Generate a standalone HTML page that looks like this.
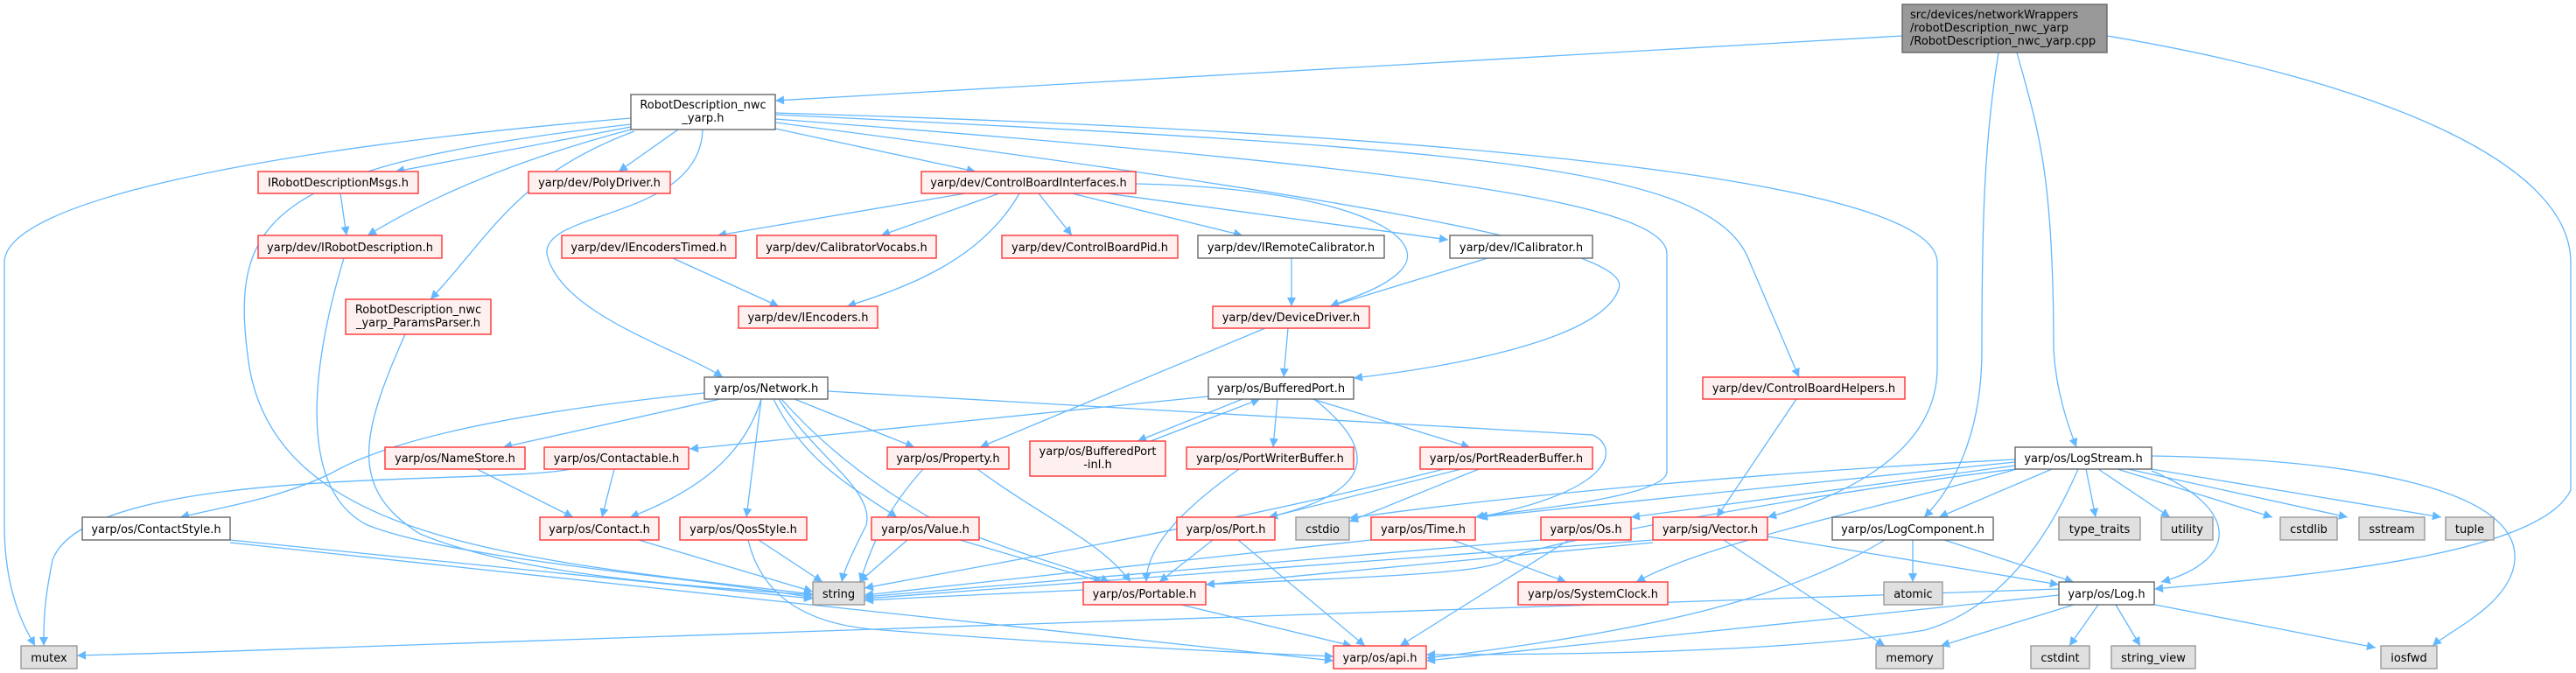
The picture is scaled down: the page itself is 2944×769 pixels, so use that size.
<!DOCTYPE html>
<html><head><meta charset="utf-8"><style>
html,body{margin:0;padding:0;background:#fff}
svg{display:block}
text{font-family:"DejaVu Sans","Liberation Sans",sans-serif;font-size:13px;fill:#000}
.r{fill:#fff0f0;stroke:#ff3333;stroke-width:1.4}
.w{fill:#fff;stroke:#666;stroke-width:1.4}
.g{fill:#e0e0e0;stroke:#999;stroke-width:1.4}
.d{fill:#999;stroke:#666;stroke-width:1.4}
.e path{fill:none;stroke:#63b8ff;stroke-width:1.3;marker-end:url(#a)}
</style></head><body>
<svg width="2944" height="769" viewBox="0 0 2944 769" xmlns="http://www.w3.org/2000/svg">
<defs><marker id="a" viewBox="0 0 10 10" refX="10" refY="5" markerWidth="11" markerHeight="10" markerUnits="userSpaceOnUse" orient="auto"><path d="M0,0 L10,5 L0,10 z" fill="#63b8ff"/></marker></defs>
<g class="e">
<!-- cpp -->
<path d="M2174,41 L886,115"/>
<path d="M2284,60 C2268,160 2265,250 2265,400 C2265,500 2230,560 2199,591"/>
<path d="M2305,60 C2330,150 2347,200 2347,400 C2350,450 2365,490 2373,511"/>
<path d="M2408,41 C2700,90 2938,180 2938,300 L2938,560 C2900,640 2600,660 2462,673"/>
<!-- RD -->
<path d="M721,135 C300,170 5,230 5,300 L5,600 C5,680 30,720 40,738"/>
<path d="M721,142 C300,190 260,250 285,420 C320,620 600,640 929,679"/>
<path d="M721,145 L452,196"/>
<path d="M721,148 C600,180 500,220 420,269"/>
<path d="M725,150 C590,200 560,270 492,342"/>
<path d="M775,148 L707,196"/>
<path d="M803,148 C800,250 620,240 625,290 C640,360 780,400 826,431"/>
<path d="M886,147 L1115,196"/>
<path d="M886,140 C1500,220 1870,280 1850,330 C1830,390 1650,420 1547,432"/>
<path d="M886,136 C1600,190 1905,230 1905,290 L1905,540 C1900,570 1720,585 1686,591"/>
<path d="M886,131 C1700,170 1960,190 2000,300 L2056,431"/>
<path d="M886,129 C1600,150 2214,200 2214,300 L2214,420 C2214,520 2100,570 2020,591"/>
<!-- CBI -->
<path d="M1103,221 L820,269"/>
<path d="M1142,221 L1007,269"/>
<path d="M1165,221 C1120,300 1030,330 968,350"/>
<path d="M1187,221 L1225,269"/>
<path d="M1225,221 L1420,269"/>
<path d="M1265,221 L1655,274"/>
<path d="M1298,210 C1540,215 1640,270 1600,310 C1580,330 1545,340 1520,350"/>
<path d="M389,221 L396,269"/>
<path d="M393,295 C355,420 340,560 420,600 C520,640 800,660 929,683"/>
<path d="M463,382 C410,500 400,560 480,610 C600,660 800,670 929,680"/>
<path d="M769,295 L890,350"/>
<path d="M1476,295 L1476,350"/>
<path d="M1700,295 L1520,350"/>
<path d="M1472,375 L1467,431"/>
<path d="M1446,375 L1120,511"/>
<!-- Network -->
<path d="M805,449 C600,470 450,500 380,540 C320,570 250,580 206,591"/>
<path d="M823,456 L575,511"/>
<path d="M870,456 C850,520 800,560 720,591"/>
<path d="M870,456 L853,591"/>
<path d="M884,456 C920,530 980,560 1025,591"/>
<path d="M893,456 C950,520 1010,560 1060,590 C1150,630 1230,650 1268,665"/>
<path d="M890,456 C930,520 1000,560 990,600 C975,630 965,650 962,665"/>
<path d="M908,456 L1045,511"/>
<path d="M946,447 L1820,497 C1850,510 1850,560 1690,591"/>
<path d="M1381,453 L788,513"/>
<!-- mid level -->
<path d="M263,617 L929,684"/>
<path d="M263,620 L1524,755"/>
<path d="M652,536 C560,555 100,530 60,640 C50,690 50,710 50,738"/>
<path d="M702,536 L688,591"/>
<path d="M545,536 L655,591"/>
<path d="M730,617 L929,676"/>
<path d="M867,617 L940,665"/>
<path d="M855,617 C870,680 920,715 1010,720 C1200,735 1400,745 1524,750"/>
<path d="M1037,617 L982,665"/>
<path d="M1097,617 L1260,665"/>
<path d="M1055,536 C1020,575 1000,610 983,665"/>
<path d="M1117,536 C1190,590 1260,620 1292,665"/>
<path d="M1420,456 L1300,504"/>
<path d="M1315,504 L1440,456"/>
<path d="M1460,456 L1455,511"/>
<path d="M1500,456 L1680,511"/>
<path d="M1502,456 C1570,510 1580,560 1450,591"/>
<path d="M1416,536 C1340,590 1310,630 1310,665"/>
<path d="M1650,536 C1400,600 1100,650 988,672"/>
<path d="M1670,536 L1450,591"/>
<path d="M1690,536 L1542,596"/>
<path d="M1386,617 L1325,665"/>
<path d="M1415,617 L1560,738"/>
<path d="M1660,617 L1790,665"/>
<path d="M1567,617 L988,680"/>
<path d="M1761,617 L988,682"/>
<path d="M1793,617 L1600,738"/>
<path d="M1889,617 L988,684"/>
<path d="M1889,620 L1378,668"/>
<path d="M1970,617 L2154,738"/>
<path d="M2020,613 L2353,668"/>
<path d="M2053,456 L1962,591"/>
<!-- LogStream -->
<path d="M2303,525 C2000,540 1700,570 1542,592"/>
<path d="M2303,528 L1690,591"/>
<path d="M2303,532 L1864,591"/>
<path d="M2303,536 C2100,560 1750,620 1720,640 C1690,660 1500,660 988,686"/>
<path d="M2305,536 C2150,580 1950,620 1870,665"/>
<path d="M2345,536 L2216,591"/>
<path d="M2384,536 L2395,591"/>
<path d="M2398,536 L2480,591"/>
<path d="M2420,536 L2597,591"/>
<path d="M2432,536 L2683,591"/>
<path d="M2459,536 L2790,591"/>
<path d="M2459,538 C2560,580 2560,640 2470,665"/>
<path d="M2459,521 C2700,525 2880,560 2874,640 C2870,690 2800,720 2780,738"/>
<path d="M2375,536 C2330,640 2270,700 2200,720 C2050,745 1800,748 1630,748"/>
<path d="M2186,617 L2186,665"/>
<path d="M2222,617 L2370,665"/>
<path d="M2154,617 C2050,680 1900,720 1630,752"/>
<path d="M2353,673 C1500,700 800,730 88,749"/>
<path d="M2353,680 L1630,755"/>
<path d="M2370,691 L2218,738"/>
<path d="M2398,691 L2365,738"/>
<path d="M2418,691 L2446,738"/>
<path d="M2463,691 L2715,740"/>
<path d="M1350,691 L1545,738"/>
</g>
<!-- nodes -->
<rect class="d" x="2174" y="5" width="234" height="55"/>
<text x="2183" y="21">src/devices/networkWrappers</text>
<text x="2183" y="36">/robotDescription_nwc_yarp</text>
<text x="2183" y="51">/RobotDescription_nwc_yarp.cpp</text>
<rect class="w" x="721" y="108" width="165" height="40"/>
<text x="803.5" y="124" text-anchor="middle">RobotDescription_nwc</text>
<text x="803.5" y="139" text-anchor="middle">_yarp.h</text>
<rect class="r" x="395" y="342" width="166" height="40"/>
<text x="478" y="358" text-anchor="middle">RobotDescription_nwc</text>
<text x="478" y="373" text-anchor="middle">_yarp_ParamsParser.h</text>
<rect class="r" x="1177" y="504" width="155" height="40"/>
<text x="1254.5" y="520" text-anchor="middle">yarp/os/BufferedPort</text>
<text x="1254.5" y="535" text-anchor="middle">-inl.h</text>
<g text-anchor="middle">
<rect class="r" x="295" y="196" width="183" height="25"/><text x="386.5" y="213">IRobotDescriptionMsgs.h</text>
<rect class="r" x="604" y="196" width="162" height="25"/><text x="685" y="213">yarp/dev/PolyDriver.h</text>
<rect class="r" x="1053" y="196" width="245" height="25"/><text x="1175.5" y="213">yarp/dev/ControlBoardInterfaces.h</text>
<rect class="r" x="295" y="269" width="210" height="26"/><text x="400" y="287">yarp/dev/IRobotDescription.h</text>
<rect class="r" x="642" y="269" width="199" height="26"/><text x="741.5" y="287">yarp/dev/IEncodersTimed.h</text>
<rect class="r" x="865" y="269" width="205" height="26"/><text x="967.5" y="287">yarp/dev/CalibratorVocabs.h</text>
<rect class="r" x="1145" y="269" width="201" height="26"/><text x="1245.5" y="287">yarp/dev/ControlBoardPid.h</text>
<rect class="w" x="1369" y="269" width="213" height="26"/><text x="1475.5" y="287">yarp/dev/IRemoteCalibrator.h</text>
<rect class="w" x="1657" y="269" width="163" height="26"/><text x="1738.5" y="287">yarp/dev/ICalibrator.h</text>
<rect class="r" x="844" y="350" width="159" height="25"/><text x="923.5" y="367">yarp/dev/IEncoders.h</text>
<rect class="r" x="1386" y="350" width="179" height="25"/><text x="1475.5" y="367">yarp/dev/DeviceDriver.h</text>
<rect class="w" x="805" y="431" width="141" height="25"/><text x="875.5" y="448">yarp/os/Network.h</text>
<rect class="w" x="1381" y="431" width="166" height="25"/><text x="1464" y="448">yarp/os/BufferedPort.h</text>
<rect class="r" x="1946" y="431" width="231" height="25"/><text x="2061.5" y="448">yarp/dev/ControlBoardHelpers.h</text>
<rect class="r" x="440" y="511" width="160" height="25"/><text x="520" y="528">yarp/os/NameStore.h</text>
<rect class="r" x="622" y="511" width="165" height="25"/><text x="704.5" y="528">yarp/os/Contactable.h</text>
<rect class="r" x="1014" y="511" width="139" height="25"/><text x="1083.5" y="528">yarp/os/Property.h</text>
<rect class="r" x="1356" y="511" width="191" height="25"/><text x="1451.5" y="528">yarp/os/PortWriterBuffer.h</text>
<rect class="r" x="1623" y="511" width="197" height="25"/><text x="1721.5" y="528">yarp/os/PortReaderBuffer.h</text>
<rect class="w" x="2303" y="511" width="156" height="25"/><text x="2381" y="528">yarp/os/LogStream.h</text>
<rect class="w" x="94" y="591" width="169" height="26"/><text x="178.5" y="609">yarp/os/ContactStyle.h</text>
<rect class="r" x="617" y="591" width="136" height="26"/><text x="685" y="609">yarp/os/Contact.h</text>
<rect class="r" x="777" y="591" width="145" height="26"/><text x="849.5" y="609">yarp/os/QosStyle.h</text>
<rect class="r" x="996" y="591" width="123" height="26"/><text x="1057.5" y="609">yarp/os/Value.h</text>
<rect class="r" x="1345" y="591" width="112" height="26"/><text x="1401" y="609">yarp/os/Port.h</text>
<rect class="g" x="1481" y="591" width="61" height="26"/><text x="1511.5" y="609">cstdio</text>
<rect class="r" x="1567" y="591" width="119" height="26"/><text x="1626.5" y="609">yarp/os/Time.h</text>
<rect class="r" x="1761" y="591" width="103" height="26"/><text x="1812.5" y="609">yarp/os/Os.h</text>
<rect class="r" x="1889" y="591" width="131" height="26"/><text x="1954.5" y="609">yarp/sig/Vector.h</text>
<rect class="w" x="2094" y="591" width="184" height="26"/><text x="2186" y="609">yarp/os/LogComponent.h</text>
<rect class="g" x="2353" y="591" width="93" height="26"/><text x="2399.5" y="609">type_traits</text>
<rect class="g" x="2470" y="591" width="59" height="26"/><text x="2499.5" y="609">utility</text>
<rect class="g" x="2606" y="591" width="65" height="26"/><text x="2638.5" y="609">cstdlib</text>
<rect class="g" x="2696" y="591" width="75" height="26"/><text x="2733.5" y="609">sstream</text>
<rect class="g" x="2795" y="591" width="55" height="26"/><text x="2822.5" y="609">tuple</text>
<rect class="g" x="929" y="665" width="59" height="26"/><text x="958.5" y="683">string</text>
<rect class="r" x="1238" y="665" width="140" height="26"/><text x="1308" y="683">yarp/os/Portable.h</text>
<rect class="r" x="1735" y="665" width="171" height="26"/><text x="1820.5" y="683">yarp/os/SystemClock.h</text>
<rect class="g" x="2153" y="665" width="67" height="26"/><text x="2186.5" y="683">atomic</text>
<rect class="w" x="2353" y="665" width="109" height="26"/><text x="2407.5" y="683">yarp/os/Log.h</text>
<rect class="g" x="24" y="738" width="64" height="26"/><text x="56" y="756">mutex</text>
<rect class="r" x="1524" y="738" width="106" height="26"/><text x="1577" y="756">yarp/os/api.h</text>
<rect class="g" x="2144" y="738" width="77" height="26"/><text x="2182.5" y="756">memory</text>
<rect class="g" x="2321" y="738" width="67" height="26"/><text x="2354.5" y="756">cstdint</text>
<rect class="g" x="2413" y="738" width="96" height="26"/><text x="2461" y="756">string_view</text>
<rect class="g" x="2721" y="738" width="64" height="26"/><text x="2753" y="756">iosfwd</text>
</g>
</svg>
</body></html>
